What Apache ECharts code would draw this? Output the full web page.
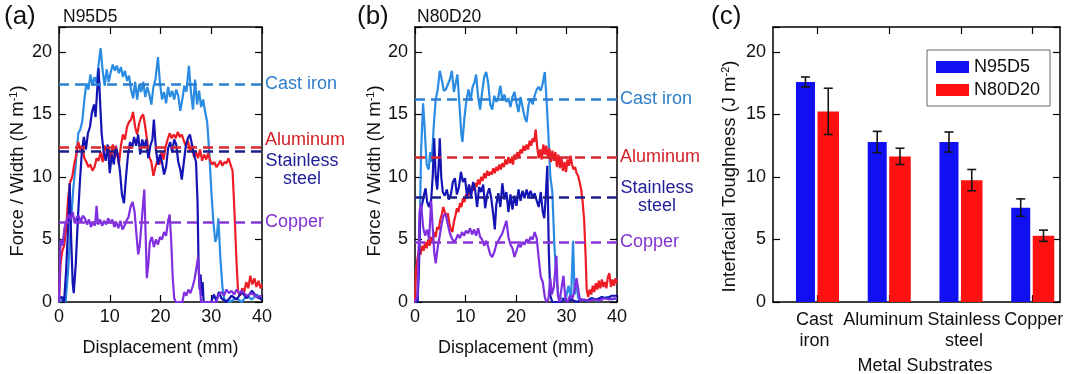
<!DOCTYPE html>
<html><head><meta charset="utf-8">
<script src="https://cdn.jsdelivr.net/npm/echarts@6/dist/echarts.min.js"></script>
<style>html,body{margin:0;padding:0;background:#fff;}#c{width:1080px;height:374px;}</style>
</head><body><div id="c"></div>
<script>
// ---------- DATA ----------
const xTicks = [0, 10, 20, 30, 40];
const yTicks = [0, 5, 10, 15, 20];
const substrates = ['Cast\niron', 'Aluminum', 'Stainless\nsteel', 'Copper'];
const substratePos = [1, 2, 3, 4];
const toughN95D5 = [17.6, 12.8, 12.8, 7.55];
const errN95D5 = [0.4, 0.85, 0.8, 0.7];
const toughN80D20 = [15.25, 11.65, 9.75, 5.3];
const errN80D20 = [1.85, 0.65, 0.85, 0.45];

// panel (a) N95D5 : [displacement mm, force/width N/m]
const a_cast = [[0,0],[0.8,0.2],[1.3,0],[1.8,2.5],[2.3,6],[2.8,9],[3.3,11],[3.8,13.5],[4.2,13.8],[4.6,14.5],[5,16.2],[5.4,17.5],[5.8,17],[6.2,18.2],[6.6,17.3],[7,18],[7.4,17.5],[7.8,19],[8.2,20.3],[8.6,18.5],[9,17.3],[9.4,18.6],[9.8,17.6],[10.2,18.4],[10.6,19],[11,18.5],[11.4,18.9],[11.8,18.3],[12.2,18.8],[12.6,18],[13,18.5],[13.4,17.7],[13.8,18.1],[14.2,17],[14.6,16.3],[15,17.6],[15.4,16.2],[15.8,17.4],[16.2,16.8],[16.6,17.6],[17,16.4],[17.4,17.2],[17.8,16.6],[18.2,15.8],[18.6,17.2],[19,17.8],[19.5,19.6],[19.9,17.5],[20.3,16.2],[20.7,16.8],[21.1,15.9],[21.5,17.2],[21.9,16.4],[22.3,16.9],[22.7,16.2],[23.1,17],[23.5,16.5],[23.9,15.3],[24.3,16.2],[24.7,17.3],[25.1,16.8],[25.6,18.9],[26,16.8],[26.4,15.4],[26.8,17.8],[27.2,15.8],[27.6,16.9],[28,15.6],[28.4,16.2],[28.8,15.2],[29.2,14.4],[29.6,12],[30,9],[30.4,6.5],[30.8,4.8],[31.1,5.2],[31.4,6.7],[31.8,3.5],[32.2,1.2],[32.6,0.2],[33.5,0],[35,0.3],[36,0],[37,0.5],[38,0.2],[39,0.6],[40,0.2]];
const a_alu = [[0,0],[0.3,3],[0.6,4],[1,4.5],[1.4,5.8],[1.8,8.3],[2.2,9.6],[2.6,10],[3,11],[3.4,11.8],[3.8,12.8],[4.2,12.2],[4.6,12.5],[5,11.5],[5.4,11.2],[5.8,10.8],[6.2,11],[6.6,10.5],[7,10.8],[7.4,11.5],[7.8,11.3],[8.2,12],[8.6,11.2],[9,12.5],[9.4,12.1],[9.8,12.4],[10.2,11.4],[10.6,12.6],[11,11.5],[11.4,12.2],[11.8,11],[12.2,12.5],[12.6,13.4],[13,13],[13.4,14],[13.8,14.4],[14.2,14.6],[14.6,15.2],[15,14],[15.4,13.4],[15.8,14.3],[16.2,14.8],[16.6,15],[17,14],[17.4,12.8],[17.8,11.6],[18.2,11.2],[18.6,10.1],[19,10.8],[19.4,11.3],[19.8,11],[20.2,12],[20.6,11.4],[21,12.4],[21.4,13],[21.8,13.5],[22.2,13.1],[22.6,13.4],[23,13.1],[23.4,13.6],[23.8,13.2],[24.2,13.4],[24.6,12.9],[25,12.5],[25.4,12.9],[25.8,12.1],[26.2,12.6],[26.6,11.6],[27,12],[27.4,11.5],[27.8,12.2],[28.2,11.3],[28.6,11.8],[29,11.4],[29.4,11.9],[29.8,11.3],[30.2,11],[30.6,11.2],[31,10.8],[31.4,11],[31.8,11.3],[32.2,10.9],[32.6,11.2],[33,11.1],[33.4,11.5],[33.8,11],[34.2,10.5],[34.6,7],[35,3],[35.3,0.8],[35.7,0.5],[36.1,1.1],[36.5,0.8],[36.9,1.6],[37.3,1.1],[37.7,2.1],[38.1,1.4],[38.5,1.9],[38.9,1.2],[39.3,1.7],[39.7,1.1],[40,1.4]];
const a_steel = [[0,0.3],[0.6,0.4],[1,0],[1.4,2.5],[1.8,6],[2.1,9.5],[2.4,5],[2.7,1.5],[2.9,0.7],[3.3,3],[3.7,6.5],[4.1,9.5],[4.5,12],[4.9,13.2],[5.3,12.2],[5.7,13.5],[6.1,14],[6.5,15.2],[6.9,15.8],[7.2,14.8],[7.5,16.8],[7.8,18.7],[8.1,16],[8.4,13.5],[8.8,12],[9.2,11.3],[9.6,12.6],[10,10.3],[10.4,11.8],[10.8,11],[11.2,12.5],[11.6,11.7],[12,10.5],[12.4,8.6],[12.8,7.9],[13.2,10],[13.6,11.8],[14,12.8],[14.4,12.3],[14.8,13.2],[15.2,12.5],[15.6,13.4],[16,11.8],[16.4,13],[16.8,12.4],[17.2,13],[17.6,11.5],[18,12.5],[18.4,13],[18.7,14.6],[19.1,12.2],[19.5,11],[19.9,11.8],[20.3,11.2],[20.7,10.2],[21.1,10.8],[21.5,12.3],[21.9,12.8],[22.3,12],[22.7,13],[23.1,12.6],[23.5,11.2],[23.9,10.6],[24.2,9.8],[24.6,11.2],[25,12.5],[25.4,13.1],[25.8,13.4],[26.2,12.6],[26.6,11.8],[27,11.2],[27.3,8],[27.5,3],[27.7,1],[27.9,2.2],[28.1,0.5],[28.3,1.6],[28.5,0],[30,0],[30.5,0.6],[31,0.1],[31.5,0.8],[32,0.3],[33,0],[34,0.5],[35,0.2],[36,0.8],[37,0.3],[38,0.9],[39,0.4],[40,0.2]];
const a_copper = [[0,0],[0.3,5],[0.7,4.5],[1.1,6],[1.5,6.5],[1.9,7],[2.3,6.6],[2.7,7.2],[3.1,6.3],[3.5,6.8],[3.9,6.9],[4.3,6.4],[4.7,6.9],[5.1,6.7],[5.5,6.2],[5.9,6.6],[6.3,6],[6.7,6.4],[7.1,6.1],[7.4,7.7],[7.7,6.2],[8.1,6.6],[8.5,6.1],[8.9,6.5],[9.3,6.2],[9.7,6.7],[10.1,6.3],[10.5,6.6],[10.9,6],[11.3,6.4],[11.7,5.9],[12.1,6.5],[12.5,5.8],[12.9,6.1],[13.3,6.5],[13.7,6.8],[14.1,7.6],[14.5,8],[14.9,7.2],[15.3,5.2],[15.6,3.8],[15.9,4.5],[16.2,6],[16.5,7.5],[16.8,9],[17.1,5],[17.3,1.9],[17.6,3],[17.9,4.8],[18.3,5.2],[18.7,4.4],[19.1,5],[19.5,4.6],[19.9,5.2],[20.3,5],[20.7,5.6],[21.1,5.3],[21.5,6.5],[21.8,7],[22.1,5],[22.4,2],[22.7,0.3],[23,0],[24.3,0],[24.7,0.8],[25.1,0.5],[25.5,1],[25.9,0.7],[26.3,1.2],[26.7,1.8],[27.1,2.8],[27.4,3.6],[27.7,1.5],[28,0],[31,0],[31.5,0.6],[32,0.8],[32.5,0.5],[33,1],[33.5,0.7],[34,0.9],[34.5,0.6],[35,1],[35.5,0.7],[36,0.9],[37,0.5],[38,0.7],[39,0.4],[40,0.5]];
const a_means = [17.4, 12.4, 12.1, 6.4];

// panel (b) N80D20
const b_cast = [[0,0],[0.5,0],[0.9,5],[1.2,12],[1.6,15.9],[1.9,14],[2.3,11],[2.7,10.6],[3,12],[3.3,11.2],[3.7,14],[4.1,16.2],[4.5,17],[4.9,18.5],[5.3,17.8],[5.7,16.9],[6.1,17],[6.5,17.4],[6.9,17.8],[7.3,18.5],[7.7,16.8],[8.1,17.6],[8.4,18.2],[8.8,15.8],[9.2,13.3],[9.4,12.8],[9.8,14.8],[10.2,16.2],[10.6,17],[11,16.1],[11.4,17.2],[11.8,17.6],[12.1,18.2],[12.5,16.4],[12.9,15.4],[13.3,16.8],[13.7,18],[14.1,18.4],[14.5,17.5],[14.9,15.8],[15.3,15.4],[15.7,16.5],[16.1,16],[16.5,16.4],[16.9,17.3],[17.3,16.1],[17.7,16.6],[18.1,16],[18.5,16.3],[18.9,15.6],[19.3,16.4],[19.7,16.8],[20.1,15.9],[20.5,15.2],[20.9,16.4],[21.3,15.6],[21.7,14.8],[22.1,14.4],[22.5,15.8],[22.9,16.3],[23.3,15.8],[23.7,16.5],[24.1,17],[24.5,17.2],[24.9,16.9],[25.3,17.5],[25.7,18.4],[26,16.5],[26.4,13.5],[26.8,10],[27.2,8.8],[27.6,4.5],[28,2],[28.4,0.5],[29,0.3],[29.8,0.2],[30.4,1.3],[30.9,0.2],[31.3,4.9],[31.6,0.6],[32,1.5],[32.3,0.3],[33,0.2],[34,0.1],[35,0.3],[36,0.1],[37,0.2],[38,0.4],[39,0.2],[40,0.3]];
const b_alu = [[0,0],[0.2,2.5],[0.5,3.5],[0.8,4.2],[1.1,3.8],[1.4,4.5],[1.7,4.1],[2,4.8],[2.3,4.3],[2.6,5],[2.9,4.5],[3.2,5.2],[3.5,4.9],[3.8,5.6],[4.1,5.2],[4.4,6],[4.7,5.8],[5,6.6],[5.3,7],[5.6,7.6],[5.9,7.2],[6.2,6.8],[6.5,7.1],[6.8,6.3],[7.1,5.8],[7.4,5.6],[7.7,6.4],[8,6.9],[8.3,7.5],[8.6,7.2],[8.9,7.9],[9.2,7.6],[9.5,8.3],[9.8,8],[10.1,8.6],[10.4,8.3],[10.7,8.9],[11,8.6],[11.3,9.3],[11.6,8.9],[11.9,9.5],[12.2,9.2],[12.5,9.8],[12.8,9.4],[13.1,10],[13.4,9.7],[13.7,10.3],[14,9.9],[14.3,10.5],[14.6,10.1],[14.9,10.4],[15.2,10.2],[15.5,10.7],[15.8,10.3],[16.1,10.8],[16.4,10.5],[16.7,11],[17,10.6],[17.3,11.1],[17.6,10.8],[17.9,11.4],[18.2,11],[18.5,11.6],[18.8,11.1],[19.1,11.5],[19.4,11],[19.7,11.8],[20,11.4],[20.3,12],[20.6,11.6],[20.9,12.2],[21.2,11.9],[21.5,12.5],[21.8,12.1],[22.1,12.6],[22.4,12.2],[22.7,12.9],[23,12.5],[23.3,13.1],[23.6,12.8],[23.9,13.8],[24.2,12.4],[24.5,11.5],[24.8,12.2],[25.1,11.4],[25.4,12.6],[25.7,11.8],[26,12.5],[26.3,11.5],[26.6,12.3],[26.9,11.2],[27.2,12.1],[27.5,11.3],[27.8,12],[28.1,10.8],[28.4,11.8],[28.7,10.7],[29,11.5],[29.3,10.5],[29.6,11.2],[29.9,10.4],[30.2,11.4],[30.5,10.9],[30.8,11.7],[31.1,11],[31.4,10.6],[31.7,10.8],[32,10.3],[32.3,10.1],[32.6,9.6],[32.9,9],[33.2,8],[33.5,6.5],[33.8,3.5],[34,1],[34.3,0.4],[34.6,1],[34.9,0.6],[35.2,1.3],[35.5,0.8],[35.8,1.5],[36.1,1],[36.4,1.7],[36.7,1.1],[37,1.8],[37.3,1.2],[37.6,1.6],[37.9,1.1],[38.2,2],[38.5,2.3],[38.8,1.2],[39.1,1.8],[39.4,1.3],[39.7,1.9],[40,1.5]];
const b_steel = [[0,0],[0.5,0],[0.8,3],[1,7],[1.4,7.8],[1.8,8.6],[2.1,9.1],[2.4,8],[2.8,7.6],[3.2,8.2],[3.5,10],[3.8,13.1],[4.1,10],[4.4,9],[4.7,11],[4.9,13.1],[5.2,10],[5.5,8.8],[5.9,8.5],[6.3,9],[6.7,8.2],[7.1,8.6],[7.5,9.6],[7.9,9.9],[8.3,8.6],[8.7,9.2],[9.1,10.4],[9.5,9.6],[9.9,9.9],[10.3,8.5],[10.7,9.4],[11.1,8.4],[11.5,9.6],[11.9,9],[12.3,7.6],[12.7,9.2],[13.1,8.8],[13.5,9.4],[13.9,7.5],[14.3,8.6],[14.7,9.1],[15.1,8.3],[15.5,7],[15.8,5.8],[16.1,7.8],[16.5,8.7],[16.9,7.6],[17.3,9.5],[17.7,8.2],[18.1,8.8],[18.5,7.2],[18.9,8.6],[19.3,7.4],[19.7,8.5],[20.1,7.7],[20.5,9],[20.9,8.1],[21.3,8.9],[21.7,8.3],[22.1,9],[22.5,8.4],[22.9,8.9],[23.3,8.3],[23.7,8.7],[24.1,8.1],[24.5,7.6],[24.9,8.8],[25.3,7.2],[25.6,6.7],[25.9,8.5],[26.2,10.9],[26.5,4],[26.8,0.5],[27.2,0],[29,0],[29.5,0.3],[30,0],[31,0.2],[32,0],[33,0.2],[34,0.1],[35,0.3],[36,0.2],[37,0.4],[38,0.3],[39,0.5],[40,0.5]];
const b_copper = [[0,0],[0.5,0.5],[0.9,7.2],[1.2,7.9],[1.6,6],[2,5.3],[2.4,5.8],[2.8,5],[3.2,8.1],[3.5,6],[3.8,4],[4.1,3.1],[4.5,4.4],[4.9,5.3],[5.3,6.3],[5.7,7],[6.1,7],[6.5,6.2],[6.9,5.5],[7.3,5.1],[7.7,4.8],[8.1,5],[8.5,5.4],[8.9,5.1],[9.3,5.6],[9.7,5.3],[10.1,5.7],[10.5,5.5],[10.9,5.9],[11.3,5.4],[11.7,5.8],[12.1,5.3],[12.5,5.9],[12.9,5.2],[13.3,5],[13.7,4.5],[14.1,4.9],[14.5,4.4],[14.9,3.8],[15.3,3.6],[15.7,4],[16.1,4.6],[16.5,4.9],[16.9,5.2],[17.3,5.5],[17.7,6],[18.1,6.5],[18.5,5.2],[18.9,4.6],[19.3,4.3],[19.7,3.6],[20.1,4.1],[20.5,4.6],[20.9,4.4],[21.3,4.8],[21.7,4.6],[22.1,5],[22.5,4.8],[22.9,5.2],[23.3,5],[23.7,5.6],[24.1,5.1],[24.5,3.5],[24.9,2],[25.3,1.6],[25.7,0.4],[26,0],[26.4,0.2],[26.8,1.9],[27.1,0.6],[27.5,1.2],[28,3.7],[28.3,0.5],[28.6,0],[29.4,2.1],[29.8,0.2],[30.2,0],[30.7,0.5],[31.2,0.3],[31.6,1],[32,1.9],[32.4,0.8],[32.7,0.1],[33.5,0.2],[34.5,0.1],[35.5,0.2],[36.5,0.1],[37.5,0.3],[38.5,0.2],[39.5,0.3],[40,0.2]];
const b_means = [16.2, 11.6, 8.4, 4.8];

// ---------- STYLE ----------
const FONT = '"Liberation Sans", Arial, Helvetica, sans-serif';
const TXT = '#111';
const lineColors = ['#2a8be2', '#ee1c24', '#1414b4', '#7f2ee0'];
const dashColors = ['#2a7fd2', '#d7282f', '#1c1f8c', '#8a36d6'];
const textColors = ['#2f7fc8', '#d32027', '#1e1e96', '#8232d2'];
const barColors = ['#1010f2', '#ff1111'];
const catShift = [-3, -6, 3, 1]; // horizontal nudge of category labels (px)

const chart = echarts.init(document.getElementById('c'));

function yAx(gi, name, gap, pad) {
  return [{
    type: 'value', gridIndex: gi, position: 'left', min: 0, max: 22, interval: 5,
    axisLine: { show: true, onZero: false, lineStyle: { color: '#000', width: 1.5 } },
    axisTick: { show: true, inside: true, length: 7, lineStyle: { color: '#000', width: 1.2 } },
    axisLabel: { show: true, color: TXT, fontSize: 18, fontFamily: FONT, margin: 7,
      formatter: v => (yTicks.indexOf(v) >= 0 ? String(v) : '') },
    splitLine: { show: false },
    name: name, nameLocation: 'middle', nameGap: gap,
    nameTextStyle: { fontSize: 18.5, color: TXT, fontFamily: FONT, padding: pad,
      rich: { sup: { fontSize: 11, color: TXT, fontFamily: FONT, verticalAlign: 'top' } } }
  }, {
    type: 'value', gridIndex: gi, position: 'right', min: 0, max: 22, interval: 5,
    axisLine: { show: true, onZero: false, lineStyle: { color: '#000', width: 1.5 } },
    axisTick: { show: true, inside: true, length: 7, lineStyle: { color: '#000', width: 1.2 } },
    axisLabel: { show: false }, splitLine: { show: false }
  }];
}
function xAxDisp(gi) {
  return [{
    type: 'value', gridIndex: gi, position: 'bottom', min: 0, max: 40, interval: 10,
    axisLine: { show: true, onZero: false, lineStyle: { color: '#000', width: 1.5 } },
    axisTick: { show: true, inside: true, length: 7, lineStyle: { color: '#000', width: 1.2 } },
    axisLabel: { show: true, color: TXT, fontSize: 18, fontFamily: FONT, margin: 6,
      formatter: v => (xTicks.indexOf(v) >= 0 ? String(v) : '') },
    splitLine: { show: false },
    name: 'Displacement (mm)', nameLocation: 'middle', nameGap: 37,
    nameTextStyle: { fontSize: 18, color: TXT, fontFamily: FONT }
  }, {
    type: 'value', gridIndex: gi, position: 'top', min: 0, max: 40, interval: 10,
    axisLine: { show: true, onZero: false, lineStyle: { color: '#000', width: 1.5 } },
    axisTick: { show: true, inside: true, length: 7, lineStyle: { color: '#000', width: 1.2 } },
    axisLabel: { show: false }, splitLine: { show: false }
  }];
}

const catRich = {};
catShift.forEach((s, i) => {
  catRich['c' + i] = { fontSize: 18, lineHeight: 21, color: TXT, fontFamily: FONT, align: 'center',
    padding: s > 0 ? [0, 0, 0, 2 * s] : [0, -2 * s, 0, 0] };
});

const xAxis = [
  ...xAxDisp(0), ...xAxDisp(1),
  {
    type: 'value', gridIndex: 2, position: 'bottom', min: 0.38, max: 4.38,
    axisLine: { show: true, onZero: false, lineStyle: { color: '#000', width: 1.5 } },
    axisTick: { show: true, inside: true, length: 7, customValues: substratePos, lineStyle: { color: '#000', width: 1.2 } },
    axisLabel: { show: true, customValues: substratePos, color: TXT, fontSize: 18, fontFamily: FONT,
      lineHeight: 21, margin: 8, rich: catRich,
      formatter: v => {
        const k = Math.round(v) - 1;
        return substrates[k].split('\n').map(t => '{c' + k + '|' + t + '}').join('\n');
      } },
    splitLine: { show: false },
    name: 'Metal Substrates', nameLocation: 'middle', nameGap: 55,
    nameTextStyle: { fontSize: 18, color: TXT, fontFamily: FONT, padding: [0, 0, 0, 17] }
  }, {
    type: 'value', gridIndex: 2, position: 'top', min: 0.38, max: 4.38,
    axisLine: { show: true, onZero: false, lineStyle: { color: '#000', width: 1.5 } },
    axisTick: { show: true, inside: true, length: 7, customValues: substratePos, lineStyle: { color: '#000', width: 1.2 } },
    axisLabel: { show: false }, splitLine: { show: false }
  }
];
const yAxis = [
  ...yAx(0, 'Force / Width (N m{sup|-1})', 32, [0, 13, 0, 0]),
  ...yAx(1, 'Force / Width (N m{sup|-1})', 30, [0, 13, 0, 0]),
  ...yAx(2, 'Interfacial Toughness (J m{sup|-2})', 34, [0, 24, 0, 0])
];

const labelNames = ['Cast iron', 'Aluminum', 'Stainless steel', 'Copper'];
function mkLabel(i, pad) {
  const rs = { fontSize: 18, lineHeight: 18, color: textColors[i], fontFamily: FONT };
  const base = { show: true, position: 'end', distance: 3, color: textColors[i], fontSize: 18, fontFamily: FONT, padding: pad };
  if (i === 2) {
    base.formatter = '{s|Stainless}\n{s|steel}';
    base.rich = { s: Object.assign({ width: 74, align: 'center' }, rs) };
  } else {
    base.formatter = '{s|' + labelNames[i] + '}';
    base.rich = { s: Object.assign({ align: 'left' }, rs) };
  }
  return base;
}
function curveSeries(panel, curves, means, pads) {
  const xi = panel * 2, yi = panel * 2;
  return curves.map((d, i) => ({
    type: 'line', name: labelNames[i] + ' ' + (panel === 0 ? 'N95D5' : 'N80D20'),
    xAxisIndex: xi, yAxisIndex: yi, data: d, showSymbol: false, symbol: 'none',
    lineStyle: { color: lineColors[i], width: 2.2 }, itemStyle: { color: lineColors[i] },
    silent: true, animation: false, z: 3 + (i === 3 ? 1 : 0),
    markLine: {
      silent: true, symbol: 'none', animation: false,
      lineStyle: { color: dashColors[i], width: 2.5, type: [10, 6] },
      label: mkLabel(i, pads[i]),
      emphasis: { disabled: true },
      data: [{ yAxis: means[i] }]
    }
  }));
}

function barRender(off0, off1, color) {
  return function (params, api) {
    const c = api.value(0), v = api.value(1), e = api.value(2);
    const p0 = api.coord([c + off0, v]);
    const p1 = api.coord([c + off1, 0]);
    const xc = (p0[0] + p1[0]) / 2;
    const yt = api.coord([c, v + e])[1], yb = api.coord([c, v - e])[1];
    const cap = 4.5;
    const st = { stroke: '#151515', lineWidth: 1.6 };
    return {
      type: 'group', children: [
        { type: 'rect', shape: { x: p0[0], y: p0[1], width: p1[0] - p0[0], height: p1[1] - p0[1] }, style: { fill: color } },
        { type: 'line', shape: { x1: xc, y1: yt, x2: xc, y2: yb }, style: st },
        { type: 'line', shape: { x1: xc - cap, y1: yt, x2: xc + cap, y2: yt }, style: st },
        { type: 'line', shape: { x1: xc - cap, y1: yb, x2: xc + cap, y2: yb }, style: st }
      ]
    };
  };
}

const series = [
  ...curveSeries(0, [a_cast, a_alu, a_steel, a_copper], a_means, [0, [0, 0, 14, 0], [38, 0, 0, 0], 0]),
  ...curveSeries(1, [b_cast, b_alu, b_steel, b_copper], b_means, [0, 0, 0, 0]),
  {
    type: 'custom', name: 'N95D5', xAxisIndex: 4, yAxisIndex: 4, animation: false, silent: true,
    itemStyle: { color: barColors[0] }, encode: { x: 0, y: 1 },
    renderItem: barRender(-0.30, -0.035, barColors[0]),
    data: substratePos.map((p, i) => [p, toughN95D5[i], errN95D5[i]])
  },
  {
    type: 'custom', name: 'N80D20', xAxisIndex: 4, yAxisIndex: 4, animation: false, silent: true,
    itemStyle: { color: barColors[1] }, encode: { x: 0, y: 1 },
    renderItem: barRender(0.0, 0.30, barColors[1]),
    data: substratePos.map((p, i) => [p, toughN80D20[i], errN80D20[i]])
  }
];

const titleStyle = (fs) => ({ fontSize: fs, fontWeight: 'normal', color: TXT, fontFamily: FONT });
chart.setOption({
  animation: false,
  backgroundColor: '#fff',
  title: [
    { text: '(a)', left: 4, top: 4, padding: 0, textStyle: titleStyle(26) },
    { text: 'N95D5', left: 63, top: 8, padding: 0, textStyle: titleStyle(17.5) },
    { text: '(b)', left: 357, top: 4, padding: 0, textStyle: titleStyle(26) },
    { text: 'N80D20', left: 417, top: 8, padding: 0, textStyle: titleStyle(17.5) },
    { text: '(c)', left: 711, top: 4, padding: 0, textStyle: titleStyle(26) }
  ],
  grid: [
    { left: 59, top: 27, width: 203, height: 275, outerBoundsMode: 'none', containLabel: false },
    { left: 415, top: 27, width: 202, height: 275, outerBoundsMode: 'none', containLabel: false },
    { left: 773, top: 27, width: 287, height: 275, outerBoundsMode: 'none', containLabel: false }
  ],
  legend: {
    data: [
      { name: 'N95D5', icon: 'rect', itemStyle: { color: barColors[0] } },
      { name: 'N80D20', icon: 'rect', itemStyle: { color: barColors[1] } }
    ],
    orient: 'vertical', left: 927, top: 50,
    padding: [7, 10, 6, 9], itemWidth: 33, itemHeight: 12, itemGap: 3,
    borderColor: '#666', borderWidth: 1, backgroundColor: '#fff',
    selectedMode: false,
    textStyle: { fontSize: 18, lineHeight: 20, color: TXT, fontFamily: FONT }
  },
  xAxis: xAxis,
  yAxis: yAxis,
  series: series
});
</script></body></html>
